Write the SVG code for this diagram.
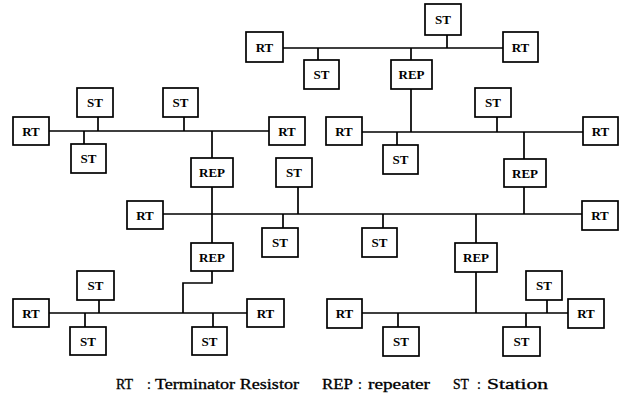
<svg xmlns="http://www.w3.org/2000/svg" width="626" height="395" viewBox="0 0 626 395">
<style>
.b{fill:#fff;stroke:#000;stroke-width:1.7}
.t{font-family:"Liberation Serif","Times New Roman",serif;font-weight:bold;font-size:13px;text-anchor:middle;fill:#000}
.l{fill:none;stroke:#000;stroke-width:1.7}
.g{font-family:"Liberation Serif","Times New Roman",serif;font-size:14px;fill:#000;stroke:#000;stroke-width:0.3}
</style>
<rect width="626" height="395" fill="#fff"/>
<g id="connectors">
<path class="l" d="M283 48H503M447 35V48M318 48V60M411 48V60M411 89V132"/>
<path class="l" d="M49 131H269M98 117V131M184 117V131M84 131V144M212 131V158M212 187V243"/>
<path class="l" d="M362 132H583M397 132V145M497 117V132M524 132V159M524 187V214"/>
<path class="l" d="M163 214H582M298 187V214M283 214V228M383 214V228M476 214V243M476 272V313"/>
<path class="l" d="M212 271V283H183V313"/>
<path class="l" d="M49 313H247M99 300V313M85 313V327M213 313V327"/>
<path class="l" d="M362 313H568M398 313V327M547 300V313M526 313V327"/>
</g>
<g id="rt1"><rect class="b" x="246" y="32" width="37" height="30"/><text class="t" x="264.5" y="52">RT</text></g>
<g id="rt2"><rect class="b" x="503" y="32" width="35" height="30"/><text class="t" x="520.5" y="52">RT</text></g>
<g id="st1"><rect class="b" x="425" y="4" width="36" height="31"/><text class="t" x="443" y="24">ST</text></g>
<g id="st2"><rect class="b" x="304" y="60" width="35" height="29"/><text class="t" x="321.5" y="79">ST</text></g>
<g id="rep1"><rect class="b" x="391" y="60" width="41" height="29"/><text class="t" x="411.5" y="79">REP</text></g>

<g id="rt3"><rect class="b" x="13" y="117" width="36" height="28"/><text class="t" x="31" y="136">RT</text></g>
<g id="rt4"><rect class="b" x="269" y="117" width="36" height="28"/><text class="t" x="287" y="136">RT</text></g>
<g id="st3"><rect class="b" x="77" y="88" width="36" height="29"/><text class="t" x="95" y="107">ST</text></g>
<g id="st4"><rect class="b" x="163" y="88" width="35" height="29"/><text class="t" x="180.5" y="107">ST</text></g>
<g id="st5"><rect class="b" x="71" y="144" width="35" height="29"/><text class="t" x="88.5" y="163">ST</text></g>
<g id="rep2"><rect class="b" x="191" y="158" width="42" height="29"/><text class="t" x="212" y="177">REP</text></g>

<g id="rt5"><rect class="b" x="326" y="117" width="36" height="28"/><text class="t" x="344" y="136">RT</text></g>
<g id="rt6"><rect class="b" x="583" y="117" width="35" height="28"/><text class="t" x="600.5" y="136">RT</text></g>
<g id="st6"><rect class="b" x="383" y="145" width="35" height="29"/><text class="t" x="400.5" y="164">ST</text></g>
<g id="st7"><rect class="b" x="475" y="88" width="36" height="29"/><text class="t" x="493" y="107">ST</text></g>
<g id="rep3"><rect class="b" x="504" y="159" width="42" height="28"/><text class="t" x="525" y="178">REP</text></g>

<g id="rt7"><rect class="b" x="127" y="201" width="36" height="28"/><text class="t" x="145" y="220">RT</text></g>
<g id="rt8"><rect class="b" x="582" y="201" width="36" height="29"/><text class="t" x="600" y="220">RT</text></g>
<g id="st8"><rect class="b" x="276" y="158" width="36" height="29"/><text class="t" x="294" y="177">ST</text></g>
<g id="st9"><rect class="b" x="262" y="228" width="36" height="29"/><text class="t" x="280" y="247">ST</text></g>
<g id="st10"><rect class="b" x="362" y="228" width="35" height="29"/><text class="t" x="379.5" y="247">ST</text></g>
<g id="rep4"><rect class="b" x="191" y="243" width="42" height="28"/><text class="t" x="212" y="262">REP</text></g>
<g id="rep5"><rect class="b" x="455" y="243" width="42" height="29"/><text class="t" x="476" y="262">REP</text></g>

<g id="rt9"><rect class="b" x="13" y="299" width="36" height="28"/><text class="t" x="31" y="318">RT</text></g>
<g id="rt10"><rect class="b" x="247" y="299" width="37" height="28"/><text class="t" x="265.5" y="318">RT</text></g>
<g id="st11"><rect class="b" x="77" y="271" width="37" height="29"/><text class="t" x="95.5" y="290">ST</text></g>
<g id="st12"><rect class="b" x="70" y="327" width="36" height="28"/><text class="t" x="88" y="346">ST</text></g>
<g id="st13"><rect class="b" x="192" y="327" width="35" height="28"/><text class="t" x="209.5" y="346">ST</text></g>

<g id="rt11"><rect class="b" x="327" y="299" width="35" height="29"/><text class="t" x="344.5" y="318">RT</text></g>
<g id="rt12"><rect class="b" x="568" y="299" width="36" height="29"/><text class="t" x="586" y="318">RT</text></g>
<g id="st14"><rect class="b" x="383" y="327" width="36" height="29"/><text class="t" x="401" y="346">ST</text></g>
<g id="st15"><rect class="b" x="526" y="271" width="36" height="29"/><text class="t" x="544" y="290">ST</text></g>
<g id="st16"><rect class="b" x="503" y="327" width="37" height="29"/><text class="t" x="521.5" y="346">ST</text></g>

<g id="legend">
<text class="g" x="116" y="389" textLength="17" lengthAdjust="spacingAndGlyphs">RT</text>
<text class="g" x="147" y="389">:</text>
<text class="g" x="155" y="389" textLength="144" lengthAdjust="spacingAndGlyphs">Terminator Resistor</text>
<text class="g" x="322" y="389" textLength="31" lengthAdjust="spacingAndGlyphs">REP</text>
<text class="g" x="358" y="389">:</text>
<text class="g" x="368" y="389" textLength="62" lengthAdjust="spacingAndGlyphs">repeater</text>
<text class="g" x="453" y="389" textLength="16" lengthAdjust="spacingAndGlyphs">ST</text>
<text class="g" x="477" y="389">:</text>
<text class="g" x="487" y="389" textLength="61" lengthAdjust="spacingAndGlyphs">Station</text>
</g>
</svg>
